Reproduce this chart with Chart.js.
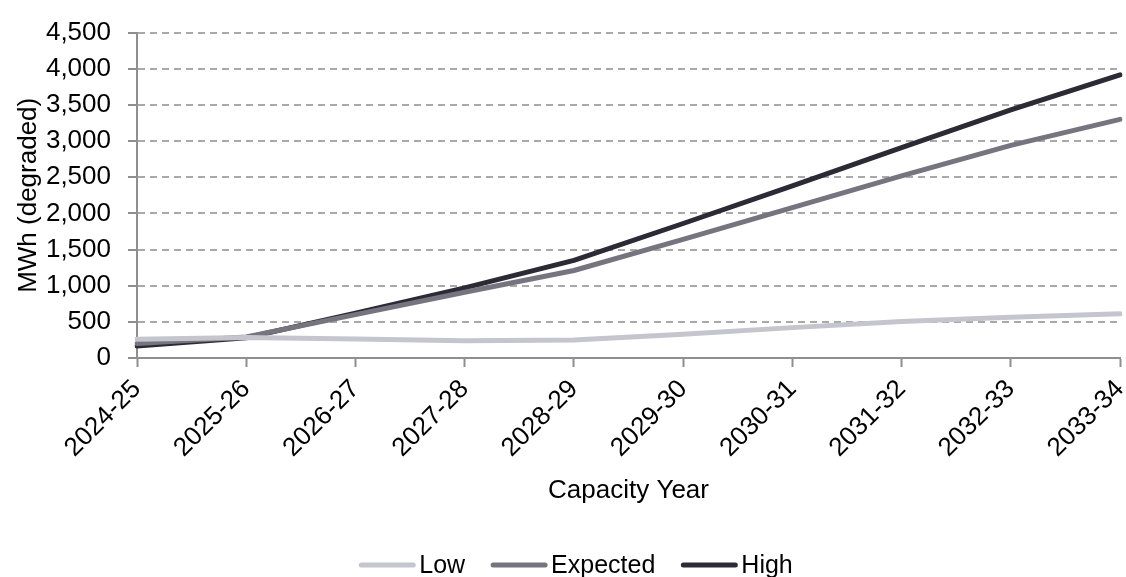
<!DOCTYPE html>
<html>
<head>
<meta charset="utf-8">
<script src="https://cdn.jsdelivr.net/npm/chart.js@4.4.0/dist/chart.umd.min.js"></script>
<style>
  html, body { margin: 0; padding: 0; background: #ffffff; }
  #wrap { width: 1126px; height: 577px; }
</style>
</head>
<body>
<div id="wrap"><canvas id="chart" width="1126" height="577"></canvas></div>
<script>
// Capacity years on the horizontal axis
const capacityYears = ['2024-25', '2025-26', '2026-27', '2027-28', '2028-29',
                       '2029-30', '2030-31', '2031-32', '2032-33', '2033-34'];

// Degraded storage, MWh, per scenario
const lowMWh      = [260, 285, 262, 240, 250, 330, 420, 505, 565, 612];
const expectedMWh = [200, 290, 600, 910, 1210, 1640, 2080, 2520, 2940, 3300];
const highMWh     = [165, 280, 620, 970, 1350, 1860, 2380, 2910, 3430, 3915];

// Value axis ticks
const yTicks = [0, 500, 1000, 1500, 2000, 2500, 3000, 3500, 4000, 4500];

const FONT_FAMILY = '"Liberation Sans", Arial, sans-serif';
const AXIS_GREY = '#8f8f8f';
const GRID_GREY = '#a9a9a9';

// Legend drawn as short thick line swatches followed by the series name
const lineLegend = {
  id: 'lineLegend',
  afterDraw(chart) {
    const ctx = chart.ctx;
    const swatch = 56, textGap = 4, itemGap = 26, y = 565;
    ctx.save();
    ctx.font = '25px ' + FONT_FAMILY;
    const items = chart.data.datasets.map(ds => ({
      label: ds.label, color: ds.borderColor, w: ctx.measureText(ds.label).width
    }));
    const total = items.reduce((s, it) => s + swatch + textGap + it.w, 0) + itemGap * (items.length - 1);
    let x = chart.width / 2 + 13 - total / 2;
    ctx.textBaseline = 'middle';
    ctx.textAlign = 'left';
    items.forEach(it => {
      ctx.strokeStyle = it.color;
      ctx.lineWidth = 5;
      ctx.lineCap = 'round';
      ctx.beginPath();
      ctx.moveTo(x + 2, y);
      ctx.lineTo(x + swatch - 2, y);
      ctx.stroke();
      x += swatch + textGap;
      ctx.fillStyle = '#000000';
      ctx.fillText(it.label, x, y + 1);
      x += it.w + itemGap;
    });
    ctx.restore();
  }
};

const makeSeries = (label, data, color) => ({
  label, data,
  borderColor: color,
  backgroundColor: color,
  borderWidth: 5,
  pointRadius: 0,
  pointHoverRadius: 0,
  tension: 0,
  borderCapStyle: 'round',
  borderJoinStyle: 'round',
  fill: false
});

new Chart(document.getElementById('chart'), {
  type: 'line',
  data: {
    labels: capacityYears,
    datasets: [
      makeSeries('Low', lowMWh, '#c5c5cd'),
      makeSeries('Expected', expectedMWh, '#76757f'),
      makeSeries('High', highMWh, '#2c2b35')
    ]
  },
  options: {
    responsive: false,
    animation: false,
    events: [],
    layout: { padding: { left: 13, right: 6, top: 5, bottom: 67 } },
    plugins: {
      legend: { display: false },
      tooltip: { enabled: false }
    },
    scales: {
      x: {
        offset: false,
        afterFit(scale) { scale.height = 152; scale.paddingRight = 0; },
        grid: {
          drawOnChartArea: false,
          drawTicks: true,
          tickLength: 9,
          tickColor: AXIS_GREY,
          tickWidth: 2
        },
        border: { display: true, color: AXIS_GREY, width: 2 },
        ticks: {
          color: '#000000',
          font: { family: FONT_FAMILY, size: 26 },
          maxRotation: 45,
          minRotation: 45,
          autoSkip: false,
          padding: 7
        },
        title: {
          display: true,
          text: 'Capacity Year',
          color: '#000000',
          font: { family: FONT_FAMILY, size: 26 },
          padding: { top: 4, bottom: 4 }
        }
      },
      y: {
        min: yTicks[0],
        max: yTicks[yTicks.length - 1],
        afterFit(scale) { scale.width = 124; },
        afterBuildTicks(scale) { scale.ticks = yTicks.map(v => ({ value: v })); },
        grid: {
          color: GRID_GREY,
          lineWidth: 2,
          drawTicks: true,
          tickLength: 9,
          tickColor: AXIS_GREY,
          tickWidth: 2,
          tickBorderDash: []
        },
        border: { display: true, color: AXIS_GREY, width: 2, dash: [7, 5] },
        ticks: {
          color: '#000000',
          font: { family: FONT_FAMILY, size: 26 },
          autoSkip: false,
          padding: 17,
          callback: v => Number(v).toLocaleString('en-US')
        },
        title: {
          display: true,
          text: 'MWh (degraded)',
          color: '#000000',
          font: { family: FONT_FAMILY, size: 26 },
          padding: { top: 0, bottom: 0 }
        }
      }
    }
  },
  plugins: [lineLegend]
});
</script>
</body>
</html>
